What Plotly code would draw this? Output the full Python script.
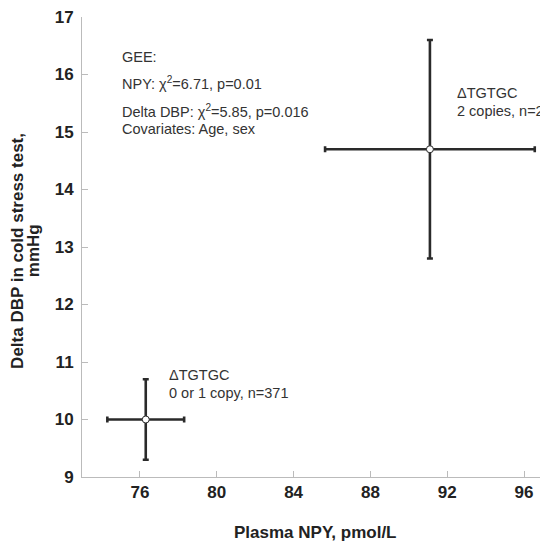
import plotly.graph_objects as go

# Data
groups = ["0 or 1 copy", "2 copies"]
npy_mean = [76.3, 91.1]
npy_err = [2.0, 5.46]
dbp_mean = [10.0, 14.7]
dbp_err = [0.7, 1.9]

x_ticks = [76, 80, 84, 88, 92, 96]
y_ticks = [9, 10, 11, 12, 13, 14, 15, 16, 17]

stat_lines = [
    "GEE:",
    "NPY: χ<sup>2</sup>=6.71, p=0.01",
    "Delta DBP: χ<sup>2</sup>=5.85, p=0.016",
    "Covariates: Age, sex",
]
group_labels = [
    ["ΔTGTGC", "0 or 1 copy, n=371"],
    ["ΔTGTGC", "2 copies, n=2"],
]

dark = "#2a2a2a"
txt = "#333333"
FAM = "Liberation Sans, Arial, sans-serif"

fig = go.Figure()
fig.add_trace(go.Scatter(
    x=npy_mean, y=dbp_mean, mode="markers",
    marker=dict(symbol="circle", size=7, color="white", line=dict(color=dark, width=1)),
    error_x=dict(type="data", array=npy_err, symmetric=True, color=dark, thickness=2.6, width=3),
    error_y=dict(type="data", array=dbp_err, symmetric=True, color=dark, thickness=2.6, width=3),
    showlegend=False, cliponaxis=False,
))

font_a = dict(family=FAM, size=14.5, color=txt)

annotations = []
stat_pos_y = [16.30, 15.85, 15.37, 15.05]
for t, yv in zip(stat_lines, stat_pos_y):
    annotations.append(dict(x=74.96, y=yv, xref="x", yref="y", text=t, showarrow=False,
                            xanchor="left", yanchor="middle", font=font_a))

label_pos = [(77.39, [10.77, 10.46]), (92.4, [15.68, 15.37])]
for lines, (xv, ys) in zip(group_labels, label_pos):
    for t, yv in zip(lines, ys):
        annotations.append(dict(x=xv, y=yv, xref="x", yref="y", text=t, showarrow=False,
                                xanchor="left", yanchor="middle", font=font_a))

# axis titles
title_font = dict(family=FAM, size=17, color="#222")
annotations.append(dict(x=-0.140, y=0.491, xref="paper", yref="paper",
                        text="<b>Delta DBP in cold stress test,</b>", textangle=-90,
                        showarrow=False, xanchor="center", yanchor="middle", font=title_font))
annotations.append(dict(x=-0.105, y=0.491, xref="paper", yref="paper",
                        text="<b>mmHg</b>", textangle=-90,
                        showarrow=False, xanchor="center", yanchor="middle", font=title_font))
annotations.append(dict(x=0.502, y=-0.1196, xref="paper", yref="paper",
                        text="<b>Plasma NPY, pmol/L</b>",
                        showarrow=False, xanchor="center", yanchor="middle", font=title_font))

tick_font = dict(size=17, color="#222", family=FAM, weight="bold")

fig.update_layout(
    width=540, height=536,
    margin=dict(l=74, r=0, t=9, b=67),
    paper_bgcolor="white", plot_bgcolor="white",
    font=dict(family=FAM, color="#222"),
    annotations=annotations,
    xaxis=dict(
        range=[72.98, 97.25], tickvals=x_ticks, ticktext=[str(v) for v in x_ticks],
        showgrid=False, zeroline=False, showline=True, linecolor="#bbbbbb", linewidth=1,
        ticks="inside", ticklen=6, tickcolor="#bbbbbb", ticklabeloverflow="allow",
        tickfont=tick_font, automargin=False,
    ),
    yaxis=dict(
        range=[9, 17], tickvals=y_ticks, ticktext=[str(v) for v in y_ticks],
        showgrid=False, zeroline=False, showline=True, linecolor="#bbbbbb", linewidth=1,
        ticks="inside", ticklen=6, tickcolor="#bbbbbb", ticklabelstandoff=4,
        ticklabeloverflow="allow",
        tickfont=tick_font, automargin=False,
    ),
)

fig.write_html("out.html")
